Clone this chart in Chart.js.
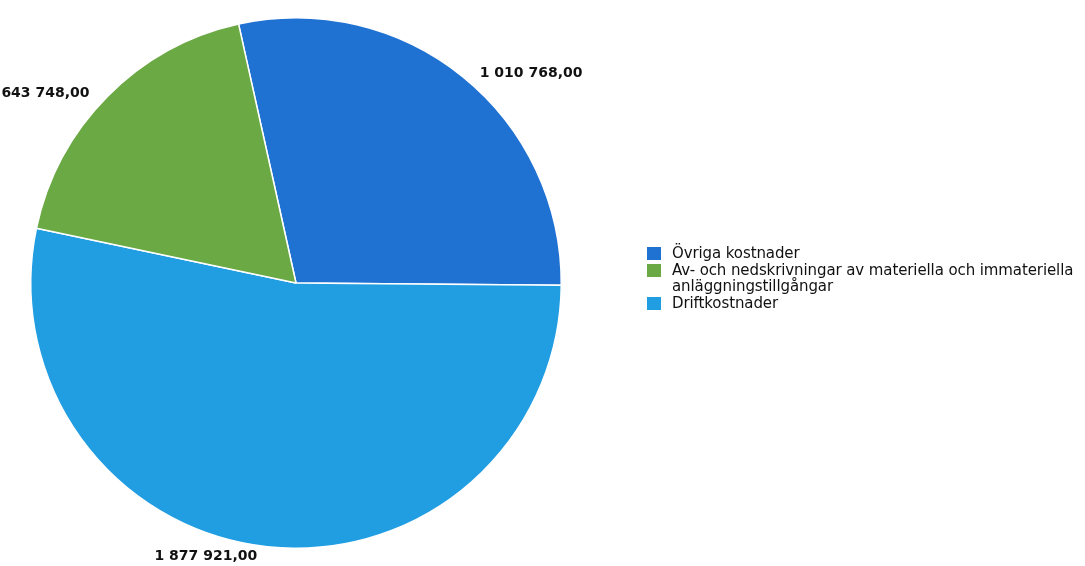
<!DOCTYPE html>
<html>
<head>
<meta charset="utf-8">
<script src="https://cdn.jsdelivr.net/npm/chart.js@4/dist/chart.umd.min.js"></script>
<style>
  body { margin: 0; background: #fff; }
  #wrap { position: relative; width: 1085px; height: 566px; }
  #legend { position: absolute; left: 647px; top: 245px; font-family: "DejaVu Sans", sans-serif; font-size: 15px; letter-spacing: -0.1px; color: #111; line-height: 16.5px; }
  .item { position: relative; padding-left: 25px; white-space: nowrap; }
  .box { position: absolute; left: 0; top: 2px; width: 14px; height: 13px; }
</style>
</head>
<body>
<div id="wrap">
  <canvas id="myChart" width="1085" height="566"></canvas>
  <div id="legend"></div>
</div>
<script>
// Categories and values, in legend order
const categories = ['Övriga kostnader', 'Av- och nedskrivningar av materiella och immateriella|anläggningstillgångar', 'Driftkostnader'];
const values = [1010768, 643748, 1877921];
const valueLabels = ['1 010 768,00', '643 748,00', '1 877 921,00'];
const colors = ['#2072d2', '#6aa944', '#219de2'];

// Pie is drawn clockwise: Övriga, Drift, Av- (legend keeps the order above)
const drawOrder = [0, 2, 1];

const legendEl = document.getElementById('legend');
categories.forEach((c, i) => {
    const div = document.createElement('div');
    div.className = 'item';
    div.innerHTML = '<span class="box" style="background:' + colors[i] + '"></span>' + c.split('|').join('<br>');
    legendEl.appendChild(div);
});

const labelPlugin = {
    id: 'sliceLabels',
    afterDatasetsDraw(chart) {
        const ctx = chart.ctx;
        const meta = chart.getDatasetMeta(0);
        ctx.save();
        ctx.font = 'bold 14px "DejaVu Sans"';
        ctx.fillStyle = '#111';
        ctx.textBaseline = 'middle';
        meta.data.forEach((arc, i) => {
            const mid = (arc.startAngle + arc.endAngle) / 2;
            const r = arc.outerRadius + 14;
            let x = arc.x + Math.cos(mid) * r;
            let y = arc.y + Math.sin(mid) * r;
            if (Math.abs(x - arc.x) < 60) {
                ctx.textAlign = 'center';
                x -= 60; y -= 4;
            } else {
                ctx.textAlign = x > arc.x ? 'left' : 'right';
                x += x > arc.x ? 8 : -8;
                y += 7;
            }
            ctx.fillText(valueLabels[drawOrder[i]], x, y);
        });
        ctx.restore();
    }
};

const myChart = document.getElementById('myChart');

let pieChart = new Chart(myChart, {
    type: 'pie',
    data: {
        labels: drawOrder.map(i => categories[i].replace('|', ' ')),
        datasets: [{
            data: drawOrder.map(i => values[i]),
            backgroundColor: drawOrder.map(i => colors[i]),
            borderColor: '#ffffff',
            borderWidth: 1.5
        }]
    },
    options: {
        responsive: false,
        animation: false,
        rotation: -12.5,
        layout: {
            padding: { left: 30, top: 17, right: 523, bottom: 17 }
        },
        plugins: {
            legend: { display: false },
            tooltip: { enabled: false }
        }
    },
    plugins: [labelPlugin]
});
</script>
</body>
</html>
